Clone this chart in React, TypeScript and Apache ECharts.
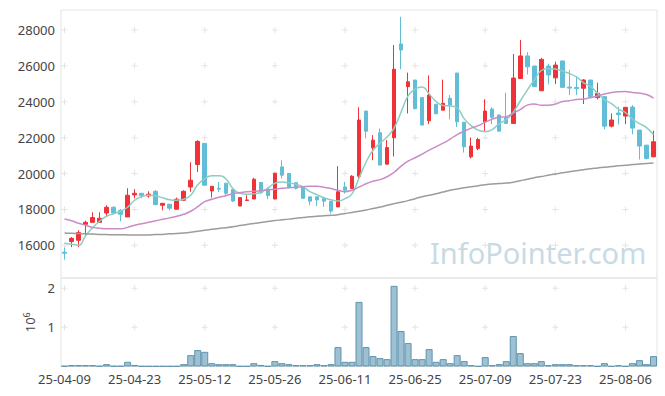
import React, { useEffect, useRef } from "react";
import * as echarts from "echarts";

const dates = [
  "25-04-09","25-04-10","25-04-11","25-04-14","25-04-15","25-04-16","25-04-17","25-04-18","25-04-21","25-04-22",
  "25-04-23","25-04-24","25-04-25","25-04-28","25-04-29","25-04-30","25-05-02","25-05-07","25-05-08","25-05-09",
  "25-05-12","25-05-13","25-05-14","25-05-15","25-05-16","25-05-19","25-05-20","25-05-21","25-05-22","25-05-23",
  "25-05-26","25-05-27","25-05-28","25-05-29","25-05-30","25-06-02","25-06-04","25-06-05","25-06-09","25-06-10",
  "25-06-11","25-06-12","25-06-13","25-06-16","25-06-17","25-06-18","25-06-19","25-06-20","25-06-23","25-06-24",
  "25-06-25","25-06-26","25-06-27","25-06-30","25-07-01","25-07-02","25-07-03","25-07-04","25-07-07","25-07-08",
  "25-07-09","25-07-10","25-07-11","25-07-14","25-07-15","25-07-16","25-07-17","25-07-18","25-07-21","25-07-22",
  "25-07-23","25-07-24","25-07-25","25-07-28","25-07-29","25-07-30","25-07-31","25-08-01","25-08-04","25-08-05",
  "25-08-06","25-08-07","25-08-08","25-08-11","25-08-12"
];

const opens = [
  15620,16210,16280,17170,17280,17280,17800,18120,17950,17580,
  18810,18900,18750,19010,18230,18290,18010,18510,19250,20500,
  21680,19030,19180,19460,19110,18190,18500,18580,19500,19130,
  18580,20370,20000,19490,19250,18700,18700,18610,18460,18140,
  19250,19160,19850,23480,21430,22270,20520,21990,27220,24840,
  25210,24230,22940,23860,23530,24190,25600,22860,20930,21400,
  22880,23590,23260,23120,22790,25290,26550,25990,24610,25990,
  25330,26270,24820,24800,24750,25210,24230,24280,22640,23370,
  23200,23700,22420,21580,20930
];
const closes = [
  15560,16390,16710,17280,17550,17510,18120,17800,17730,18790,
  18900,18770,18850,18270,18340,18070,18570,19010,19630,21790,
  19350,19290,19130,18900,18470,18660,18530,19680,18930,18770,
  20020,19910,19250,19180,18620,18460,18530,18460,17910,18980,
  19070,19850,22980,22360,21860,20470,21450,25810,26880,25110,
  23610,22700,24370,23330,23910,23810,22880,21490,21530,21900,
  23480,23140,22360,22790,25320,26550,25950,24840,26360,25490,
  26040,24800,24760,24730,25210,24280,24470,22640,22980,23280,
  23690,22530,21530,20840,21770
];
const lows = [
  15200,15900,15900,16560,17280,17280,17580,17730,17340,17580,
  18610,18620,18660,18230,17950,17950,18010,18510,18980,20090,
  19350,18660,18960,18770,18420,18190,18460,18580,18870,18570,
  18580,19720,19180,19110,18620,18230,18190,18140,17770,18140,
  18890,19160,19740,21960,20740,20470,20520,20950,25810,23350,
  23610,22700,22750,23330,23530,23020,22590,21170,20840,21300,
  22360,22750,22360,22790,22790,25290,25520,24840,24610,24960,
  24990,24800,24370,24370,23870,24180,24130,22460,22570,22730,
  22750,22180,20780,20780,20930
];
const highs = [
  15870,16460,16840,17370,17840,17840,18230,18180,18010,19180,
  19130,18900,19010,19070,18340,18290,18660,19070,20630,21860,
  21690,19290,19530,19460,19110,18660,18790,19760,19500,19250,
  20020,20740,20000,19490,19250,18700,18700,18700,18460,20410,
  19530,19910,23690,23480,22140,22510,21860,27160,28730,25620,
  25210,24230,25460,23860,25230,24370,25600,22860,22010,21990,
  24130,23690,23260,24500,26660,27440,26770,25990,26440,26120,
  26230,26290,25770,25430,25250,25210,25060,24280,23350,23720,
  23690,23810,22420,21580,22380
];

const ma5 = [
  16110,16060,16000,16530,16980,17340,17620,17760,17900,18120,
  18510,18710,18790,18760,18650,18540,18510,18570,18790,19380,
  19710,19880,19880,19710,19180,18900,18850,18870,18960,19180,
  19460,19530,19480,19400,19270,18990,18820,18650,18540,18470,
  18600,18870,19740,20630,21300,21690,22030,22530,23420,24320,
  24710,24820,24430,24010,23790,23760,23650,23060,22670,22420,
  22330,22450,22780,23000,23420,24040,24650,25210,25740,25850,
  25820,25710,25570,25380,25070,24850,24480,24120,23900,23590,
  23400,23030,22780,22560,22170
];
const ma20 = [
  17470,17370,17230,17120,17000,16950,16920,16920,16920,17000,
  17120,17200,17280,17370,17450,17530,17620,17730,17900,18150,
  18430,18570,18680,18760,18870,18930,18990,19010,19040,19090,
  19130,19180,19210,19240,19270,19290,19290,19240,19160,19070,
  18990,19070,19240,19430,19570,19660,19820,20070,20410,20690,
  20880,21080,21300,21500,21690,21920,22170,22360,22530,22670,
  22860,23030,23140,23170,23370,23560,23810,23870,23810,23810,
  23870,24010,24060,24120,24150,24230,24320,24430,24510,24560,
  24570,24520,24480,24400,24200
];
const ma60 = [
  16690,16670,16660,16640,16630,16610,16600,16590,16590,16580,
  16570,16570,16580,16600,16610,16640,16660,16690,16730,16780,
  16840,16890,16940,16980,17030,17100,17160,17220,17270,17330,
  17380,17420,17460,17510,17550,17590,17620,17650,17670,17710,
  17770,17830,17900,17970,18050,18130,18230,18320,18400,18490,
  18600,18710,18790,18870,18970,19070,19140,19210,19260,19320,
  19380,19420,19440,19470,19520,19600,19680,19770,19830,19910,
  19970,20040,20100,20160,20210,20270,20310,20350,20390,20430,
  20460,20500,20530,20560,20590
];

const volumes = [
  15000,35000,35000,35000,35000,15000,60000,15000,15000,120000,
  40000,10000,10000,10000,10000,10000,10000,60000,290000,420000,
  375000,85000,60000,60000,60000,10000,10000,85000,40000,10000,
  137000,85000,60000,35000,35000,35000,60000,35000,60000,495000,
  120000,120000,1650000,496000,265000,214000,188000,2060000,906000,598000,
  188000,188000,444000,120000,188000,85000,290000,137000,34000,9000,
  240000,34000,60000,137000,778000,342000,85000,85000,137000,34000,
  60000,60000,60000,34000,34000,34000,9000,85000,9000,34000,
  9000,85000,162000,60000,265000
];

const priceTicks = [16000, 18000, 20000, 22000, 24000, 26000, 28000];
const volTicks = [1000000, 2000000];
const labelEvery = 10;

const UP = "#ee3237";
const DOWN = "#62bdd6";

export default function App() {
  const ref = useRef<HTMLDivElement>(null);
  useEffect(() => {
    if (!ref.current) return;
    const chart = echarts.init(ref.current, null, { renderer: "svg" });
    const candleData = opens.map((o, i) => [o, closes[i], lows[i], highs[i]]);
    const crossCats = dates.map((_, i) => i).filter((i) => i % labelEvery === 0);
    const crossPrice = crossCats.flatMap((c) => priceTicks.map((v) => [c, v]));
    const crossVol = crossCats.flatMap((c) => volTicks.map((v) => [c, v]));
    const crossSymbol = "path://M2.5,0h1v6h-1zM0,2.5h6v1h-6z";
    const labelStyle = { fontSize: 13, color: "#444", fontFamily: "Noto Sans" };

    chart.setOption({
      animation: false,
      backgroundColor: "#ffffff",
      textStyle: { fontFamily: "Noto Sans" },
      grid: [
        { left: 61, right: 8, top: 10, height: 268, show: true, borderColor: "#e4e4e4", borderWidth: 1 },
        { left: 61, right: 8, top: 278, height: 88.5, show: true, borderColor: "#e4e4e4", borderWidth: 1 },
      ],
      graphic: [
        {
          type: "text",
          left: 430,
          top: 238,
          z: 0,
          silent: true,
          style: { text: "InfoPointer.com", fontSize: 29, fill: "#c8dbe5", fontFamily: "Noto Sans" },
        },
      ],
      xAxis: [
        {
          type: "category", gridIndex: 0, data: dates, boundaryGap: true,
          axisLine: { show: false }, axisTick: { show: false }, axisLabel: { show: false }, splitLine: { show: false },
        },
        {
          type: "category", gridIndex: 1, data: dates, boundaryGap: true,
          axisLine: { show: false }, axisTick: { show: false }, splitLine: { show: false },
          axisLabel: { ...labelStyle, interval: labelEvery - 1, margin: 6 },
        },
      ],
      yAxis: [
        {
          type: "value", gridIndex: 0, min: 14180, max: 29110, scale: true,
          axisLine: { show: false }, axisTick: { show: false }, splitLine: { show: false },
          axisLabel: { ...labelStyle, margin: 6, customValues: priceTicks, formatter: (v: number) => String(v) },
        },
        {
          type: "value", gridIndex: 1, min: 0, max: 2260000, interval: 1000000,
          axisLine: { show: false }, axisTick: { show: false }, splitLine: { show: false },
          axisLabel: { ...labelStyle, margin: 6, formatter: (v: number) => (v === 0 ? "" : String(v / 1000000)) },
          name: "{a|10}{s|6}",
          nameLocation: "middle",
          nameRotate: 90,
          nameGap: 20,
          nameTextStyle: {
            rich: {
              a: { fontSize: 13, color: "#444", lineHeight: 16, fontFamily: "Noto Sans" },
              s: { fontSize: 9, color: "#444", lineHeight: 9, verticalAlign: "top", fontFamily: "Noto Sans" },
            },
          },
        },
      ],
      series: [
        {
          type: "scatter", xAxisIndex: 0, yAxisIndex: 0, data: crossPrice, symbol: crossSymbol, symbolSize: 6,
          itemStyle: { color: "#dddddd" }, silent: true, z: 1,
        },
        {
          type: "scatter", xAxisIndex: 1, yAxisIndex: 1, data: crossVol, symbol: crossSymbol, symbolSize: 6,
          itemStyle: { color: "#dddddd" }, silent: true, z: 1,
        },
        {
          type: "candlestick", xAxisIndex: 0, yAxisIndex: 0, data: candleData, barWidth: 4,
          itemStyle: { color: UP, color0: DOWN, borderColor: UP, borderColor0: DOWN, borderWidth: 1 },
          z: 2,
        },
        {
          type: "line", xAxisIndex: 0, yAxisIndex: 0, data: ma5, smooth: true, symbol: "none",
          lineStyle: { color: "#8dcec3", width: 1.5 }, z: 3,
        },
        {
          type: "line", xAxisIndex: 0, yAxisIndex: 0, data: ma20, smooth: true, symbol: "none",
          lineStyle: { color: "#ca8cc6", width: 1.5 }, z: 3,
        },
        {
          type: "line", xAxisIndex: 0, yAxisIndex: 0, data: ma60, smooth: true, symbol: "none",
          lineStyle: { color: "#9c9c9c", width: 1.5 }, z: 3,
        },
        {
          type: "bar", xAxisIndex: 1, yAxisIndex: 1, data: volumes, barCategoryGap: "0%",
          itemStyle: { color: "#9dc1d2", borderColor: "#5f93ae", borderWidth: 1 }, z: 2,
        },
      ],
    });
    return () => chart.dispose();
  }, []);
  return (
    <div
      ref={ref}
      style={{ position: "fixed", left: 0, top: 0, width: 665, height: 396, background: "#fff" }}
    />
  );
}
